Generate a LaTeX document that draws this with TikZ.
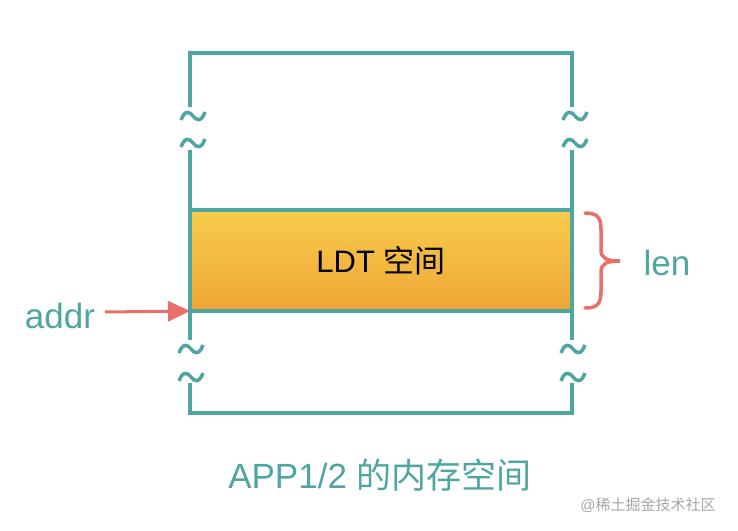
\documentclass[tikz,border=0pt]{standalone}
\usepackage{fontspec}
\setmainfont{Liberation Sans}
\newfontfamily\cjk{Noto Sans CJK SC}
\usepackage{tikz}
\usetikzlibrary{arrows.meta,positioning}
\definecolor{memteal}{RGB}{79, 166, 160}
\definecolor{ptrred}{RGB}{233, 112, 104}
\definecolor{ldttop}{RGB}{247, 204, 76}
\definecolor{ldtbot}{RGB}{240, 165, 54}
\tikzset{
 frameline/.style={
 draw=memteal,
 line width=4pt
 },
 ldtbox/.style={
 rectangle,
 draw=memteal,
 line width=4pt,
 top color=ldttop,
 bottom color=ldtbot,
 minimum width=382pt,
 minimum height=101pt,
 inner sep=0pt,
 outer sep=0pt,
 font=\fontsize{31}{35}\selectfont
 },
 tagtext/.style={
 text=memteal,
 inner sep=0pt,
 font=\fontsize{35}{40}\selectfont
 },
 ptrarrow/.style={-{Triangle[length=22pt,width=20pt]}, line width=3pt, draw=ptrred},
 lenbrace/.style={line width=3.5pt, draw=ptrred, line cap=round},
 pics/wave/.style={
 code={\draw[memteal, line width=3.5pt]
 (-12,4) .. controls (-8,-7) and (-3,-4) .. (0,0)
 .. controls (3,4) and (8,7) .. (12,-4);}
 }
}

\begin{document}
\begin{tikzpicture}[x=1pt,y=-1pt]
 \useasboundingbox (0,0) rectangle (738,530);

 % the LDT block
 \node[ldtbox] (ldt) at (381,260.5) {LDT {\cjk 空间}};

 % frame corners
 \coordinate (tl) at (190,53);
 \coordinate (tr) at (572,53);
 \coordinate (bl) at (190,413);
 \coordinate (br) at (572,413);

 \draw[frameline] (190,107) -- (tl) -- (tr) -- (572,107);
 \draw[frameline] (190,150) -- (ldt.north west);
 \draw[frameline] (572,150) -- (ldt.north east);
 \draw[frameline] (ldt.south west) -- (190,340);
 \draw[frameline] (ldt.south east) -- (572,340);
 \draw[frameline] (190,383) -- (bl) -- (br) -- (572,383);

 % breaks
 \pic at (193,116) {wave};
 \pic at (193,143) {wave};
 \pic at (575,116) {wave};
 \pic at (575,143) {wave};
 \pic at (191,349) {wave};
 \pic at (191,377) {wave};
 \pic at (573,349) {wave};
 \pic at (573,377) {wave};

 % addr and len
 \node[tagtext] (addr) at (60,316) {addr};
 \draw[ptrarrow] (105,312) -- (ldt.south west);

 \coordinate (lentop) at (585,213);
 \coordinate (lentip) at (620,261);
 \coordinate (lenbot) at (585,308);
 \draw[lenbrace] (lentop) .. controls (598,213) and (601,218) .. (601,230)
 -- (601,250) .. controls (601,258) and (606,261) .. (lentip)
 .. controls (606,261) and (601,264) .. (601,272)
 -- (601,291) .. controls (601,303) and (598,308) .. (lenbot);
 \node[tagtext] (len) at (667,263) {len};

 \node[tagtext] (title) at (380,475) {APP1/2 {\cjk 的内存空间}};
 \node[text=black!35, font=\fontsize{15}{17}\selectfont] (mark) at (648,505) {@{\cjk 稀土掘金技术社区}};
\end{tikzpicture}
\end{document}
